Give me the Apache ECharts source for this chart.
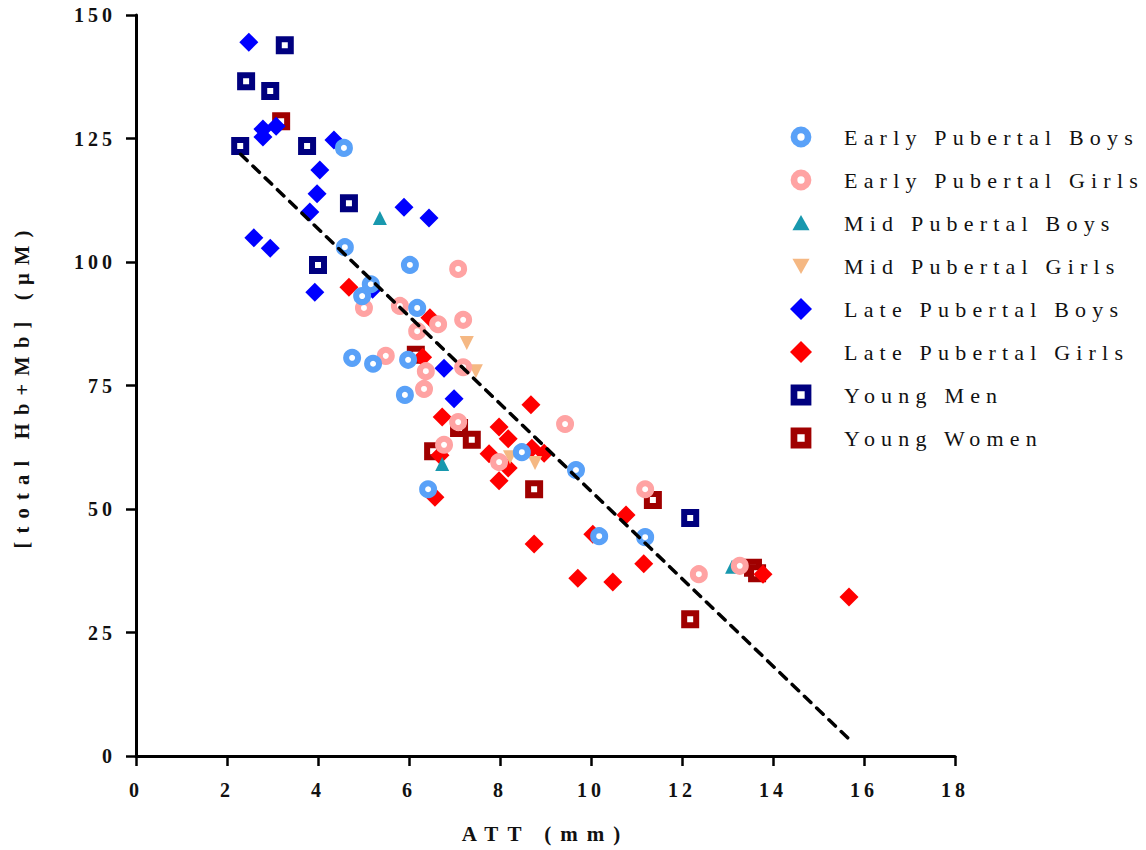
<!DOCTYPE html>
<html>
<head>
<meta charset="utf-8">
<script src="https://cdn.jsdelivr.net/npm/echarts@6/dist/echarts.min.js"></script>
<style>
html,body{margin:0;padding:0;background:#fff;}
#chart{width:1146px;height:850px;}
#chart text{letter-spacing:4px;}
#chart text[style*="21px"]{letter-spacing:9px;}
#chart text[style*="20.5px"]{letter-spacing:8.2px;}
#chart text[style*="22px"]{letter-spacing:6.2px;}
</style>
</head>
<body>
<div id="chart"></div>
<script>
const xTicks = [0, 2, 4, 6, 8, 10, 12, 14, 16, 18];
const yTicks = [0, 25, 50, 75, 100, 125, 150];
const seriesNames = ['Early Pubertal Boys','Early Pubertal Girls','Mid Pubertal Boys','Mid Pubertal Girls','Late Pubertal Boys','Late Pubertal Girls','Young Men','Young Women'];
const seriesColors = ['#59A1F8','#FFA3A3','#1898AE','#F5B883','#0000FF','#FF0000','#00007F','#A00000'];

const earlyBoys = [[4.57,123.1],[4.59,103.0],[5.16,95.5],[4.97,93.1],[6.02,99.4],[6.18,90.7],[4.75,80.6],[5.21,79.4],[5.98,80.2],[5.91,73.1],[6.42,54.0],[8.48,61.5],[9.67,57.9],[10.18,44.5],[11.19,44.3]];
const earlyGirls = [[7.08,98.6],[5.80,91.1],[5.01,90.7],[6.64,87.4],[7.19,88.3],[6.18,86.0],[5.49,81.0],[6.37,77.9],[7.19,78.7],[6.33,74.3],[7.08,67.6],[6.77,63.0],[7.98,59.5],[9.43,67.2],[11.19,54.0],[12.37,36.8],[13.27,38.5]];
const midBoys = [[5.36,108.9],[6.73,59.1],[13.1,38.3]];
const midGirls = [[7.27,83.6],[7.47,77.9],[8.22,60.5],[8.77,59.3]];
const lateBoys = [[2.48,144.5],[2.79,126.9],[3.08,127.5],[2.79,125.3],[4.35,124.7],[4.04,118.6],[3.98,113.8],[3.82,110.1],[5.89,111.1],[6.44,108.9],[2.59,104.9],[2.95,102.8],[3.93,93.9],[5.2,94.5],[6.77,78.5],[6.99,72.3]];
const lateGirls = [[4.68,94.9],[6.46,88.7],[6.3,80.7],[6.73,68.6],[7.76,61.2],[8.68,71.1],[7.98,66.6],[8.18,64.2],[8.70,62.3],[8.97,61.3],[8.18,58.3],[7.98,55.7],[6.68,60.9],[6.57,52.4],[10.77,48.8],[10.04,44.9],[8.75,42.9],[11.16,38.9],[9.71,36.0],[10.48,35.2],[13.78,36.8],[15.67,32.2]];
const youngMen = [[2.42,136.6],[2.95,134.6],[3.27,143.9],[2.29,123.5],[3.76,123.5],[4.68,111.9],[4.0,99.4],[12.18,48.2]];
const youngWomen = [[3.19,128.5],[6.15,81.2],[6.53,61.7],[7.1,66.4],[7.38,64.0],[8.75,54.0],[11.36,51.8],[12.18,27.7],[13.56,38.1],[13.65,37.0]];
const fitLine = [[2.3,121.8],[15.65,3.6]];

const FONT = '"Liberation Serif", "DejaVu Serif", serif';

// legend icons (18x18 box, padded with move-to points)
const ICON_RING = 'path://M0,0 M18,18 M9,0.5 A8.5,8.5 0 1,1 9,17.5 A8.5,8.5 0 1,1 9,0.5 Z M9,6 A3,3 0 1,0 9,12 A3,3 0 1,0 9,6 Z';
const ICON_SQ = 'path://M0,0 M18,18 M0.5,0.5 H17.5 V17.5 H0.5 Z M6,6 V12 H12 V6 Z';
const ICON_UP = 'path://M0,0 M18,18 M9,2.5 L16,15 L2,15 Z';
const ICON_DOWN = 'path://M0,0 M18,18 M2,3 L16,3 L9,15.5 Z';
const ICON_DIA = 'path://M0,0 M18,18 M9,0 L18,9 L9,18 L0,9 Z';
const legendIcons = [ICON_RING, ICON_RING, ICON_UP, ICON_DOWN, ICON_DIA, ICON_DIA, ICON_SQ, ICON_SQ];

function ring(i, data, symbol, z) {
  return {
    name: seriesNames[i], type: 'scatter', data, symbol, symbolSize: 12, z,
    itemStyle: { color: '#fff', borderColor: seriesColors[i], borderWidth: 6, opacity: 1 }
  };
}
function solid(i, data, symbol, size, z, rotate) {
  return {
    name: seriesNames[i], type: 'scatter', data, symbol, symbolSize: size, z,
    symbolRotate: rotate || 0,
    itemStyle: { color: seriesColors[i], opacity: 1 }
  };
}

const chart = echarts.init(document.getElementById('chart'), null, { renderer: 'svg' });
chart.setOption({
  animation: false,
  backgroundColor: '#fff',
  grid: { left: 136, right: 191, top: 15, bottom: 94 },
  xAxis: {
    type: 'value', min: xTicks[0], max: xTicks[xTicks.length-1], interval: 2,
    name: 'ATT (mm)', nameLocation: 'middle', nameGap: 67,
    nameTextStyle: { fontFamily: FONT, fontWeight: 'bold', fontSize: 21, color: '#111' },
    axisLine: { lineStyle: { color: '#000', width: 3 } },
    axisTick: { length: 10, lineStyle: { color: '#000', width: 2.5 } },
    axisLabel: { margin: 24, fontFamily: FONT, fontWeight: 'bold', fontSize: 20, color: '#111' },
    splitLine: { show: false }
  },
  yAxis: {
    type: 'value', min: yTicks[0], max: yTicks[yTicks.length-1], interval: 25,
    name: '[total Hb+Mb] (µM)', nameLocation: 'middle', nameGap: 104, nameRotate: 90,
    nameTextStyle: { fontFamily: FONT, fontWeight: 'bold', fontSize: 20.5, color: '#111' },
    axisLine: { lineStyle: { color: '#000', width: 3 } },
    axisTick: { length: 10, lineStyle: { color: '#000', width: 2.5 } },
    axisLabel: { margin: 20, fontFamily: FONT, fontWeight: 'bold', fontSize: 20, color: '#111' },
    splitLine: { show: false }
  },
  legend: {
    orient: 'vertical', left: 785, top: 121,
    itemWidth: 22, itemHeight: 22, itemGap: 21,
    data: seriesNames.map((n, i) => ({
      name: n, icon: legendIcons[i],
      itemStyle: { color: seriesColors[i], borderWidth: 0 }
    })),
    textStyle: { fontFamily: FONT, fontSize: 22, color: '#111', padding: [0, 0, 0, 27] }
  },
  series: [
    ring(0, earlyBoys, 'circle', 10),
    ring(1, earlyGirls, 'circle', 9),
    solid(2, midBoys, 'triangle', 14, 8),
    solid(3, midGirls, 'triangle', 14, 7, 180),
    solid(4, lateBoys, 'diamond', 19, 6),
    solid(5, lateGirls, 'diamond', 19, 5),
    ring(6, youngMen, 'rect', 4),
    ring(7, youngWomen, 'rect', 3),
    {
      type: 'line', data: fitLine, symbol: 'none', z: 20, silent: true,
      lineStyle: { color: '#000', width: 3.5, type: [9, 8], cap: 'round' }
    }
  ]
});
</script>
</body>
</html>
